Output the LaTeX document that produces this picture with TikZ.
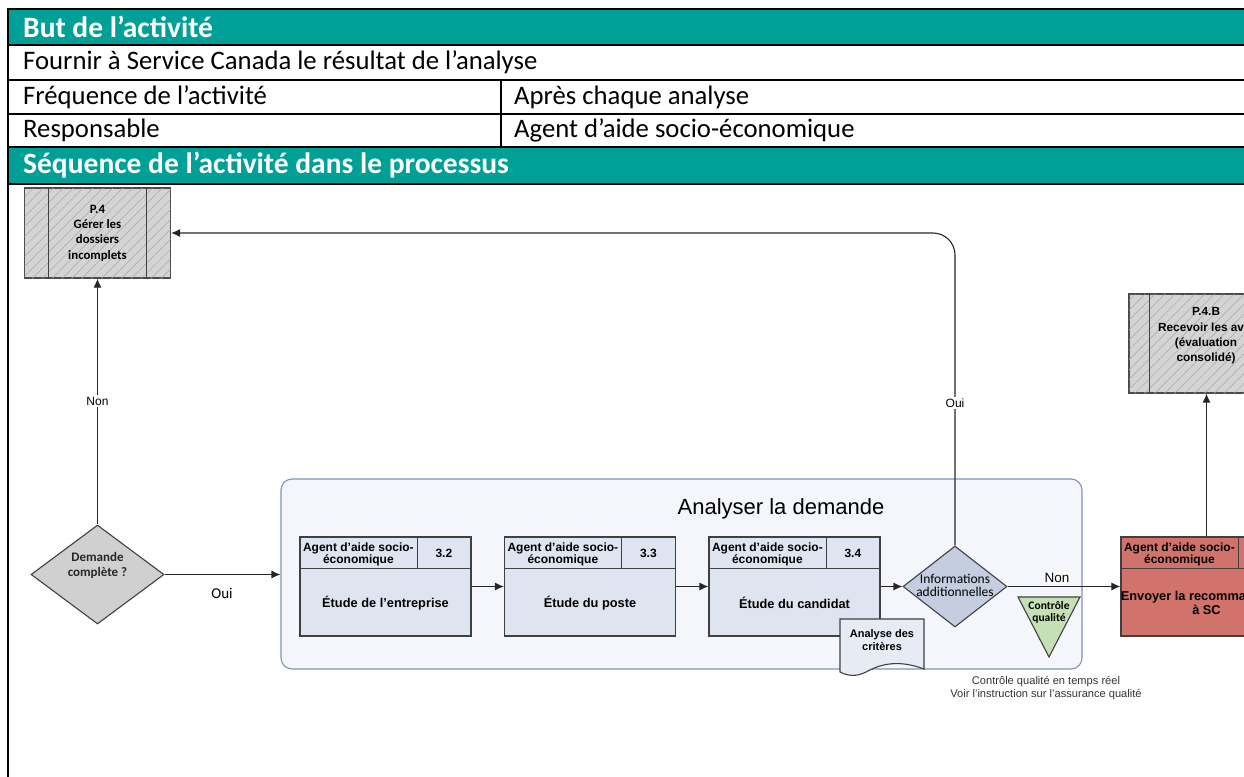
\documentclass[tikz,border=0pt]{standalone}
\usepackage{fontspec}
\setmainfont{Carlito}
\newfontfamily\arialf{Liberation Sans}
\usetikzlibrary{arrows.meta,patterns.meta,shapes.geometric}
\definecolor{tealh}{RGB}{0,160,150}
\definecolor{procfill}{RGB}{223,229,240}
\definecolor{grpfill}{RGB}{244,246,251}
\definecolor{grpline}{RGB}{125,148,190}
\definecolor{infofill}{RGB}{196,206,224}
\definecolor{decfill}{RGB}{208,208,208}
\definecolor{hatchfill}{RGB}{212,212,212}
\definecolor{redfill}{RGB}{209,115,107}
\definecolor{qcfill}{RGB}{197,224,180}
\definecolor{docfill}{RGB}{231,235,244}
\newcommand\procbox[5]{%
  \node[proc, fill=#2] (#1) at (#3,586.5) {};
  \draw[boxline] ([yshift=-32pt]#1.north west) -- ([yshift=-32pt]#1.north east);
  \draw[boxline] ([xshift=118pt]#1.north west) -- ([xshift=118pt,yshift=-32pt]#1.north west);
  \node[hdr] (#1h) at ([xshift=59pt,yshift=-18pt]#1.north west) {Agent d’aide socio-\\économique};
  \node[hdr] (#1n) at ([xshift=144.5pt,yshift=-17pt]#1.north west) {#4};
  \node[ttl] (#1t) at ([yshift=-16.5pt]#1.center) {#5};
}
\begin{document}
\begin{tikzpicture}[x=1pt,y=-1pt,
  tabline/.style={line width=2.2pt, black},
  tabtext/.style={anchor=west, inner sep=0pt, font=\fontsize{26.7}{30}\selectfont},
  tabhead/.style={anchor=west, inner sep=0pt, text=white, font=\fontsize{29.5}{32}\selectfont\bfseries},
  conn/.style={draw=black!85, line width=1.1pt},
  arr/.style={conn, -{Latex[length=9pt,width=8pt]}},
  boxline/.style={draw=black!75, line width=1.1pt},
  proc/.style={draw=black!75, line width=1.2pt, minimum width=171pt, minimum height=99pt, inner sep=0pt},
  hdr/.style={inner sep=0pt, align=center, font=\arialf\bfseries\fontsize{12}{12.7}\selectfont},
  ttl/.style={inner sep=0pt, align=center, font=\arialf\bfseries\fontsize{12.8}{14.5}\selectfont},
  hatchbox/.style={draw=black!70, line width=1.2pt, fill=hatchfill, inner sep=0pt,
    postaction={pattern={Lines[angle=45,distance=7pt,line width=0.5pt]}, pattern color=black!35}},
  lbl/.style={inner sep=1.5pt, fill=white}
]
\clip (0,0) rectangle (1244,776);
% ---------- table ----------
\fill[tealh] (8,9) rectangle (1250,45);
\fill[tealh] (8,147) rectangle (1250,184);
\foreach \yy in {9,45,80,114,147,184} \draw[tabline] (8,\yy) -- (1250,\yy);
\draw[tabline] (8,7.9) -- (8,780);
\draw[tabline] (501,80) -- (501,147);
\node[tabhead] (t1) at (23,27) {But de l’activité};
\node[tabtext] (t2) at (23,62.5) {Fournir à Service Canada le résultat de l’analyse};
\node[tabtext] (t3a) at (23,97) {Fréquence de l’activité};
\node[tabtext] (t3b) at (514,97) {Après chaque analyse};
\node[tabtext] (t4a) at (23,130.5) {Responsable};
\node[tabtext] (t4b) at (514,130.5) {Agent d’aide socio-économique};
\node[tabhead] (t5) at (23,165.5) {Séquence de l’activité dans le processus};
% ---------- P.4 ----------
\node[hatchbox, minimum width=146pt, minimum height=90pt] (p4) at (97.5,233) {};
\draw[boxline] ([xshift=25pt]p4.north west) -- ([xshift=25pt]p4.south west);
\draw[boxline] ([xshift=-25pt]p4.north east) -- ([xshift=-25pt]p4.south east);
\node[align=center, inner sep=0pt, font=\bfseries\fontsize{12.8}{15.3}\selectfont] (p4t) at (97.5,233) {P.4\\Gérer les\\dossiers\\incomplets};
% ---------- P.4.B ----------
\node[hatchbox, minimum width=154pt, minimum height=99pt] (p4b) at (1206,343.5) {};
\draw[boxline] ([xshift=21pt]p4b.north west) -- ([xshift=21pt]p4b.south west);
\draw[boxline] ([xshift=-21pt]p4b.north east) -- ([xshift=-21pt]p4b.south east);
\node[align=center, inner sep=0pt, font=\arialf\bfseries\fontsize{11.8}{15.3}\selectfont] (p4bt) at (1206,336) {P.4.B\\Recevoir les avis\\(évaluation\\consolidé)};
% ---------- group ----------
\node[draw=grpline, line width=1.1pt, fill=grpfill, rounded corners=11pt, minimum width=801pt, minimum height=190pt, inner sep=0pt] (grp) at (681.5,574) {};
\node[inner sep=0pt, font=\arialf\fontsize{22}{26}\selectfont] (grpt) at (781,509) {Analyser la demande};
% ---------- decision ----------
\node[diamond, draw=black!75, line width=1.1pt, fill=decfill, minimum width=133pt, minimum height=99pt, inner sep=0pt] (dem) at (97.5,574.5) {};
\node[align=center, inner sep=0pt, font=\bfseries\fontsize{13}{15}\selectfont, text=black!85] (demt) at (97.5,565) {Demande\\complète ?};
% ---------- process boxes ----------
\procbox{b32}{procfill}{385.5}{3.2}{Étude de l’entreprise}
\procbox{b33}{procfill}{590}{3.3}{Étude du poste}
\procbox{b34}{procfill}{794.5}{3.4}{Étude du candidat}
\procbox{red}{redfill}{1206.5}{}{Envoyer la recommandation\\à SC}
% ---------- document ----------
\path[draw=black!75, line width=1.1pt, fill=docfill] (840,619) coordinate (docA) -- (924,619) -- (924,669)
  .. controls (900,660) and (882,663) .. (866,672) .. controls (856,677) and (848,676) .. (840,672) -- cycle;
\node[align=center, inner sep=0pt, font=\arialf\bfseries\fontsize{11}{13}\selectfont] (doct) at (882,640.5) {Analyse des\\critères};
% ---------- info diamond ----------
\node[diamond, draw=black!75, line width=1.1pt, fill=infofill, minimum width=104pt, minimum height=81pt, inner sep=0pt] (info) at (955,586.5) {};
\node[align=center, inner sep=0pt, font=\fontsize{13.5}{13}\selectfont] (infot) at (955,585.5) {Informations\\additionnelles};
% ---------- quality triangle ----------
\path[draw=black!75, line width=1.1pt, fill=qcfill] (1018,597) -- (1080,597) -- (1049,657) -- cycle;
\node[align=center, inner sep=0pt, font=\bfseries\fontsize{11.5}{12}\selectfont] (qct) at (1049,612) {Contrôle\\qualité};
\node[align=center, inner sep=0pt, text=black!80, font=\arialf\fontsize{11.1}{13}\selectfont] (note) at (1046,688.5) {Contrôle qualité en temps réel\\Voir l’instruction sur l’assurance qualité};
% ---------- connectors ----------
\draw[arr] (dem.east) -- (dem.east -| grp.west);
\draw[arr] (b32) -- (b33);
\draw[arr] (b33) -- (b34);
\draw[arr] (b34) -- (info);
\draw[arr] (info) -- (red);
\draw[arr] (dem.north) -- (p4.south);
\draw[arr, rounded corners=22pt] (info.north) |- (p4.east);
\draw[arr] (red.north) -- (red.north |- p4b.south);
% ---------- labels ----------
\node[lbl, font=\fontsize{15}{17}\selectfont] (ouiA) at (222,593) {Oui};
\node[lbl, font=\arialf\fontsize{12}{14}\selectfont] (nonA) at (97.5,401) {Non};
\node[lbl, font=\arialf\fontsize{12}{14}\selectfont] (ouiB) at (955,403) {Oui};
\node[lbl, inner sep=1pt, font=\arialf\fontsize{13.5}{15}\selectfont] (nonB) at (1057,578) {Non};
\end{tikzpicture}
\end{document}
